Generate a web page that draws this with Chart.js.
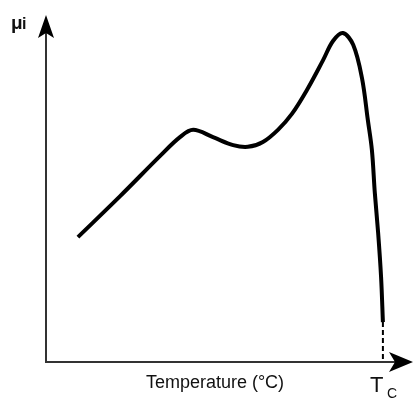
<!DOCTYPE html>
<html>
<head>
<meta charset="utf-8">
<script src="https://cdn.jsdelivr.net/npm/chart.js@4.4.1/dist/chart.umd.min.js"></script>
<style>
  body { margin: 0; background: #fff; }
  #wrap { width: 414px; height: 403px; }
</style>
</head>
<body>
<div id="wrap"><canvas id="mu" width="414" height="403"></canvas></div>
<script>
// temperature (arbitrary units, 0..100 along the axis) and initial permeability
var temperature = [8.7, 20.2, 31.1, 36.5, 40.1, 45.5, 51.0, 55.0, 59.1, 63.2, 67.0, 71.1, 75.5, 78.2, 80.9, 83.7, 86.1, 87.7, 88.8, 89.6, 90.5, 91.3, 91.8];
var permeability = [36.0, 47.8, 59.4, 64.8, 66.9, 64.8, 62.5, 62.0, 63.4, 66.9, 71.5, 78.4, 87.0, 92.5, 94.8, 91.4, 81.8, 69.7, 61.1, 48.7, 37.2, 24.5, 11.5];

// curie point drop to the axis (dashed)
var curieT = [91.8, 91.8];
var curieMu = [11.5, 0];

var axisColor = '#333';

// axes with arrow heads + labels
var axesPlugin = {
  id: 'axes',
  afterDraw: function(chart) {
    var ctx = chart.ctx;
    var a = chart.chartArea;
    ctx.save();
    ctx.strokeStyle = axisColor;
    ctx.fillStyle = '#000';
    ctx.lineWidth = 2;

    ctx.beginPath();
    ctx.moveTo(a.left, a.top + 10);
    ctx.lineTo(a.left, a.bottom);
    ctx.lineTo(a.right - 10, a.bottom);
    ctx.stroke();

    // y arrow
    ctx.beginPath();
    ctx.moveTo(a.left, a.top);
    ctx.lineTo(a.left + 8, a.top + 23);
    ctx.lineTo(a.left, a.top + 18);
    ctx.lineTo(a.left - 8, a.top + 23);
    ctx.closePath();
    ctx.fill();

    // x arrow
    ctx.beginPath();
    ctx.moveTo(a.right, a.bottom);
    ctx.lineTo(a.right - 24, a.bottom - 10);
    ctx.lineTo(a.right - 18, a.bottom);
    ctx.lineTo(a.right - 24, a.bottom + 10);
    ctx.closePath();
    ctx.fill();

    // labels
    ctx.fillStyle = '#111';
    ctx.textBaseline = 'alphabetic';
    ctx.textAlign = 'left';
    ctx.font = 'bold 19px "Liberation Sans", Arial, sans-serif';
    ctx.fillText('\u03bc', a.left - 35, a.top + 14);
    ctx.font = 'bold 16px "Liberation Sans", Arial, sans-serif';
    ctx.fillText('i', a.left - 24, a.top + 14);

    ctx.font = '18px "Liberation Sans", Arial, sans-serif';
    ctx.textAlign = 'center';
    ctx.fillText('Temperature (\u00b0C)', 215, a.bottom + 26);

    var xTc = chart.scales.x.getPixelForValue(curieT[0]);
    ctx.textAlign = 'left';
    ctx.font = '22px "Liberation Sans", Arial, sans-serif';
    ctx.fillText('T', xTc - 13, a.bottom + 30);
    ctx.font = '14px "Liberation Sans", Arial, sans-serif';
    ctx.fillText('C', xTc + 4, a.bottom + 36);
    ctx.restore();
  }
};

var chart = new Chart(document.getElementById('mu'), {
  type: 'line',
  data: {
    datasets: [
      {
        label: 'permeability',
        data: temperature.map(function(t, i) { return { x: t, y: permeability[i] }; }),
        borderColor: '#000',
        borderWidth: 4,
        pointRadius: 0,
        tension: 0.35,
        fill: false
      },
      {
        label: 'Tc',
        data: curieT.map(function(t, i) { return { x: t, y: curieMu[i] }; }),
        borderColor: '#000',
        borderWidth: 2,
        borderDash: [5, 3],
        pointRadius: 0,
        fill: false
      }
    ]
  },
  options: {
    responsive: false,
    animation: false,
    layout: { padding: { left: 46, right: 1, top: 15, bottom: 41 } },
    plugins: {
      legend: { display: false },
      tooltip: { enabled: false }
    },
    scales: {
      x: { type: 'linear', min: 0, max: 100, display: false },
      y: { type: 'linear', min: 0, max: 100, display: false }
    }
  },
  plugins: [axesPlugin]
});
</script>
</body>
</html>
